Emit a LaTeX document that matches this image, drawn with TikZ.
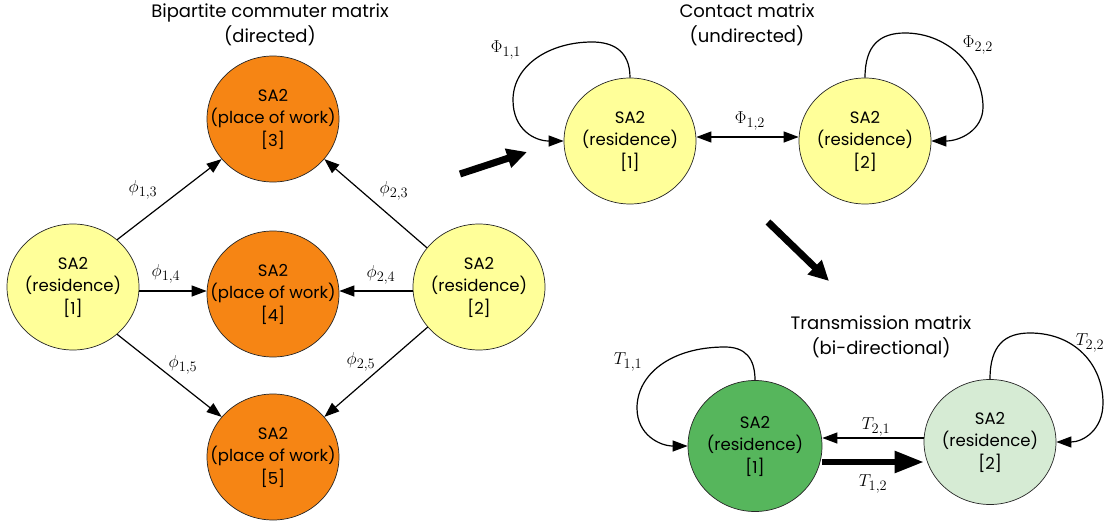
\documentclass[tikz,border=0pt]{standalone}
\usepackage{fontspec}
\setmainfont{Poppins}
\usetikzlibrary{shapes.geometric,arrows.meta}
\definecolor{resyellow}{RGB}{255,255,153}
\definecolor{workorange}{RGB}{246,133,20}
\definecolor{tgreen}{RGB}{86,182,92}
\definecolor{tlight}{RGB}{214,235,212}
\begin{document}
\begin{tikzpicture}[x=1pt,y=-1pt,
  sa/.style={ellipse,draw=black!85,line width=0.7pt,minimum width=132pt,minimum height=126pt,inner xsep=-40pt,inner ysep=-30pt,align=center,font=\fontsize{16.5}{22.5}\selectfont},
  res/.style={sa,fill=resyellow},
  work/.style={sa,fill=workorange},
  arr/.style={line width=1.2pt,-{Triangle[length=15pt,width=11pt]}},
  darr/.style={line width=1.2pt,{Triangle[length=15pt,width=11pt]}-{Triangle[length=15pt,width=11pt]}},
  bigarr/.style={line width=7pt,-{Triangle[length=20pt,width=19pt]}},
  midarr/.style={line width=5.5pt,-{Triangle[length=29pt,width=21pt]}},
  ttl/.style={align=center,font=\fontsize{18}{25}\selectfont},
  lab/.style={font=\fontsize{19}{20}\selectfont,inner sep=0pt}]
\useasboundingbox (0,0) rectangle (1106,525);

% ---------- Bipartite commuter matrix ----------
\node[ttl] (t1) at (270,25) {Bipartite commuter matrix\\(directed)};
\node[res]  (L1) at (73,287)  {SA2\\(residence)\\{[1]}};
\node[work] (L3) at (273,119) {SA2\\(place of work)\\{[3]}};
\node[work] (L4) at (273,294) {SA2\\(place of work)\\{[4]}};
\node[work] (L5) at (273,457) {SA2\\(place of work)\\{[5]}};
\node[res]  (L2) at (479,287) {SA2\\(residence)\\{[2]}};

\draw[arr] (L1.47) -- (L3.218);
\draw[arr] ([yshift=-4pt]L1.east) -- ([yshift=-4pt]L1.east -| L4.west);
\draw[arr] (L1.-47) -- (L5.142);
\draw[arr] (L2.143) -- (L3.-38);
\draw[arr] ([yshift=-4pt]L2.west) -- ([yshift=-4pt]L2.west -| L4.east);
\draw[arr] (L2.218) -- (L5.38);

\node[lab] (p13) at (143,190) {$\phi_{1,3}$};
\node[lab] (p14) at (166,274) {$\phi_{1,4}$};
\node[lab] (p15) at (183,365) {$\phi_{1,5}$};
\node[lab] (p23) at (394,191) {$\phi_{2,3}$};
\node[lab] (p24) at (381,275) {$\phi_{2,4}$};
\node[lab] (p25) at (361,362) {$\phi_{2,5}$};

% ---------- big arrows ----------
\coordinate (a1s) at (460,174);
\coordinate (a1e) at (527,152);
\draw[bigarr] (a1s) -- (a1e);
\coordinate (a2s) at (768,222);
\coordinate (a2e) at (829,281);
\draw[bigarr] (a2s) -- (a2e);

% ---------- Contact matrix ----------
\node[ttl] (t2) at (747,25) {Contact matrix\\(undirected)};
\node[res] (C1) at (630,141) {SA2\\(residence)\\{[1]}};
\node[res] (C2) at (865,141) {SA2\\(residence)\\{[2]}};

\draw[darr] ([yshift=4pt]C1.east) -- ([yshift=4pt]C1.east -| C2.west);
\draw[arr] (C1.north) .. controls (630,50) and (612,42) .. (592,42)
  .. controls (550,42) and (513,65) .. (513,100)
  .. controls (513,130) and (535,141) .. (C1.west);
\draw[arr] (C2.north) .. controls (865,45) and (880,33) .. (905,33)
  .. controls (950,33) and (983,70) .. (983,107)
  .. controls (983,130) and (960,141) .. (C2.east);

\node[lab] (f11) at (506,50) {$\Phi_{1,1}$};
\node[lab] (f12) at (750,121) {$\Phi_{1,2}$};
\node[lab] (f22) at (978,45) {$\Phi_{2,2}$};

% ---------- Transmission matrix ----------
\node[ttl] (t3) at (881,337) {Transmission matrix\\(bi-directional)};
\node[sa,fill=tgreen,minimum width=134pt,minimum height=131pt] (T1) at (755,446) {SA2\\(residence)\\{[1]}};
\node[sa,fill=tlight,minimum height=125pt] (T2) at (990,442) {SA2\\(residence)\\{[2]}};

\draw[arr] ([yshift=4pt]T2.west) -- ([yshift=4pt]T2.west -| T1.east);
\draw[midarr] ([yshift=-16pt]T1.east) -- ([yshift=-16pt]T1.east -| T2.west);
\draw[arr] (T1.north) .. controls (755,358) and (745,347) .. (725,347)
  .. controls (670,347) and (637,375) .. (637,408)
  .. controls (637,435) and (660,446) .. (T1.west);
\draw[arr] (T2.north) .. controls (990,345) and (1005,333) .. (1030,333)
  .. controls (1075,333) and (1103,365) .. (1103,403)
  .. controls (1103,430) and (1083,442) .. (T2.east);

\node[lab] (tt11) at (628,362) {$T_{1,1}$};
\node[lab] (tt22) at (1090,343) {$T_{2,2}$};
\node[lab] (tt21) at (876,427) {$T_{2,1}$};
\node[lab] (tt12) at (873,484) {$T_{1,2}$};
\end{tikzpicture}
\end{document}
